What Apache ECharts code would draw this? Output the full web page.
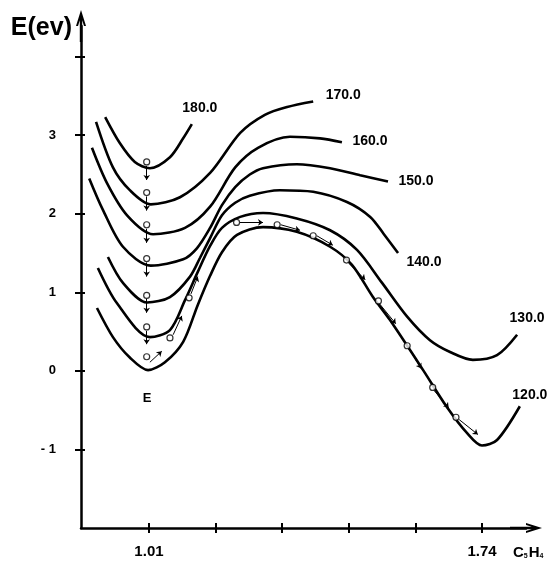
<!DOCTYPE html>
<html><head><meta charset="utf-8">
<script src="https://cdn.jsdelivr.net/npm/echarts@6/dist/echarts.min.js"></script>
<style>html,body{margin:0;padding:0;background:#fff}#c{width:549px;height:563px}</style>
</head><body><div id="c"></div>
<script>
// ---- data ----
const curveNames = ['180.0', '170.0', '160.0', '150.0', '140.0', '130.0', '120.0'];
const curve180 = [[0.914,3.23],[0.946,2.90],[0.979,2.66],[1.012,2.58],[1.056,2.72],[1.085,2.96],[1.104,3.14]];
const curve170 = [[0.894,3.17],[0.931,2.59],[0.968,2.30],[1.014,2.12],[1.078,2.21],[1.144,2.52],[1.210,3.03],[1.264,3.26],[1.313,3.36],[1.370,3.43]];
const curve160 = [[0.885,2.84],[0.918,2.39],[0.962,1.98],[1.019,1.74],[1.089,1.82],[1.144,2.09],[1.199,2.59],[1.249,2.84],[1.319,2.98],[1.385,2.96],[1.433,2.91]];
const curve150 = [[0.879,2.45],[0.909,2.05],[0.953,1.58],[1.014,1.34],[1.085,1.42],[1.115,1.56],[1.144,1.82],[1.170,2.11],[1.199,2.34],[1.231,2.50],[1.260,2.58],[1.334,2.63],[1.407,2.58],[1.473,2.49],[1.534,2.41]];
const curve140 = [[0.920,1.45],[0.953,1.12],[1.006,0.87],[1.056,0.94],[1.100,1.20],[1.122,1.44],[1.144,1.69],[1.170,1.98],[1.199,2.14],[1.231,2.23],[1.297,2.30],[1.370,2.28],[1.444,2.15],[1.495,1.96],[1.525,1.74],[1.556,1.50]];
const curve130 = [[0.898,1.31],[0.940,0.86],[1.012,0.43],[1.056,0.52],[1.089,0.90],[1.117,1.26],[1.144,1.59],[1.170,1.82],[1.210,1.96],[1.260,2.01],[1.334,1.94],[1.407,1.79],[1.466,1.54],[1.521,1.12],[1.576,0.69],[1.626,0.39],[1.670,0.24],[1.720,0.14],[1.773,0.20],[1.817,0.46]];
const curve120 = [[0.896,0.80],[0.931,0.43],[0.968,0.17],[1.008,0.01],[1.045,0.11],[1.085,0.37],[1.117,0.84],[1.144,1.21],[1.170,1.51],[1.203,1.73],[1.260,1.83],[1.334,1.77],[1.407,1.58],[1.455,1.35],[1.501,0.94],[1.538,0.65],[1.611,0.01],[1.663,-0.46],[1.707,-0.79],[1.740,-0.95],[1.773,-0.88],[1.823,-0.45]];
const curves = [curve180, curve170, curve160, curve150, curve140, curve130, curve120];

const stepCircles = [[1.005,2.66],[1.005,2.27],[1.005,1.86],[1.005,1.43],[1.005,0.96],[1.005,0.56],[1.005,0.18]];
const pathCircles = [[1.056,0.42],[1.098,0.93],[1.202,1.89],[1.291,1.86],[1.370,1.72],[1.443,1.41],[1.513,0.89],[1.576,0.32],[1.632,-0.21],[1.683,-0.59]];
const arrowFrom = [[1.005,2.61],[1.005,2.22],[1.005,1.81],[1.005,1.38],[1.005,0.92],[1.005,0.51],
  [1.012,0.11],[1.063,0.46],[1.102,0.98],[1.209,1.89],[1.299,1.86],[1.378,1.72],[1.448,1.37],[1.516,0.85],[1.580,0.28],[1.635,-0.25],[1.690,-0.62]];
const arrowTo = [[1.005,2.43],[1.005,2.04],[1.005,1.63],[1.005,1.20],[1.005,0.74],[1.005,0.34],
  [1.038,0.25],[1.082,0.70],[1.117,1.20],[1.260,1.89],[1.341,1.79],[1.413,1.60],[1.484,1.16],[1.551,0.60],[1.607,0.03],[1.667,-0.47],[1.731,-0.81]];

const xTickValues = [1.01, 1.156, 1.302, 1.448, 1.594, 1.74];
const xLabelValues = [1.01, 1.74];
const xLabels = ['1.01', '1.74'];
const yTickValues = [-1, 0, 1, 2, 3, 4];
const yLabelValues = [-1, 0, 1, 2, 3];
const yLabels = ['- 1', '0', '1', '2', '3'];
const minimumLabel = 'E';
const yAxisTitle = 'E(ev)';

// ---- styles ----
const FONT = '"Liberation Sans", Arial, sans-serif';
const labelOffsets = [[8,-16],[30,-6],[28,-1],[28,0],[26,9],[10,-17],[10,-11]];
const arrowPath = 'path://M5,0L10,16L8,16L6.2,10.2L6.2,32L3.8,32L3.8,10.2L2,16L0,16Z';
const X_MIN = 0.861, X_MAX = 1.8365, Y_MIN = -2, Y_MAX = 4.39;

function pick(values, labels) {
  return function (v) {
    let best = 0;
    for (let i = 1; i < values.length; i++) if (Math.abs(values[i]-v) < Math.abs(values[best]-v)) best = i;
    return labels[best];
  };
}

const chart = echarts.init(document.getElementById('c'), null, {renderer: 'canvas'});

const series = curves.map((c, i) => {
  const s = {
    type: 'line', name: curveNames[i], data: c, smooth: 0.3, symbol: 'none',
    lineStyle: {color: '#000', width: 2.6}, silent: true, z: 3,
    markPoint: {
      symbol: 'circle', symbolSize: 1, itemStyle: {color: 'rgba(0,0,0,0)'},
      data: [{coord: c[c.length - 1], label: {show: true, formatter: curveNames[i], offset: labelOffsets[i],
        fontFamily: FONT, fontWeight: 'bold', fontSize: 14, color: '#000'}}]
    }
  };
  if (i === curves.length - 1) {
    s.markPoint.data.push({coord: c[3], label: {show: true, formatter: minimumLabel, offset: [-1, 28],
      fontFamily: FONT, fontWeight: 'bold', fontSize: 13, color: '#000'}});
  }
  return s;
});

series.push({
  type: 'lines', coordinateSystem: 'cartesian2d', z: 4,
  symbol: ['none', 'arrow'], symbolSize: 5,
  lineStyle: {color: '#000', width: 1, opacity: 1},
  data: arrowFrom.map((p, i) => ({coords: [p, arrowTo[i]]}))
});
series.push({
  type: 'scatter', z: 5, symbol: 'circle', symbolSize: 6,
  itemStyle: {color: '#fff', borderColor: '#000', borderWidth: 1.2},
  data: stepCircles.concat(pathCircles)
});

const axisLineStyle = {color: '#000', width: 2.5};
chart.setOption({
  animation: false,
  backgroundColor: '#fff',
  grid: {left: 81, right: 23, top: 26, bottom: 35, containLabel: false},
  xAxis: [
    {type: 'value', min: X_MIN, max: X_MAX, position: 'bottom',
      axisLine: {onZero: false, lineStyle: axisLineStyle, symbol: ['none', arrowPath], symbolSize: [10, 32]},
      axisTick: {show: true, customValues: xTickValues, length: 5, lineStyle: {color: '#000', width: 2}},
      axisLabel: {customValues: xLabelValues, formatter: pick(xLabelValues, xLabels), margin: 16,
        fontFamily: FONT, fontWeight: 'bold', fontSize: 15, color: '#000'},
      splitLine: {show: false}},
    {type: 'value', min: X_MIN, max: X_MAX, position: 'bottom',
      axisLine: {show: false, onZero: false},
      axisTick: {show: true, inside: true, customValues: xTickValues, length: 5, lineStyle: {color: '#000', width: 2}},
      axisLabel: {show: false}, splitLine: {show: false}}
  ],
  yAxis: [
    {type: 'value', min: Y_MIN, max: Y_MAX, interval: 1, position: 'left',
      name: yAxisTitle, nameLocation: 'end', nameGap: -2,
      nameTextStyle: {fontFamily: FONT, fontWeight: 'bold', fontSize: 25, color: '#000', align: 'right', verticalAlign: 'middle', padding: [0, 9, 0, 0]},
      axisLine: {onZero: false, lineStyle: axisLineStyle, symbol: ['none', arrowPath], symbolSize: [10, 32]},
      axisTick: {show: true, customValues: yTickValues, length: 6, lineStyle: {color: '#000', width: 2}},
      axisLabel: {customValues: yLabelValues, formatter: pick(yLabelValues, yLabels), margin: 25,
        fontFamily: FONT, fontWeight: 'bold', fontSize: 13, color: '#000'},
      splitLine: {show: false}},
    {type: 'value', min: Y_MIN, max: Y_MAX, interval: 1, position: 'left',
      axisLine: {show: false, onZero: false},
      axisTick: {show: true, inside: true, customValues: yTickValues, length: 4, lineStyle: {color: '#000', width: 2}},
      axisLabel: {show: false}, splitLine: {show: false}}
  ],
  graphic: [{
    type: 'text', left: 513, top: 545,
    style: {
      text: '{b|C}{s|5}{b|H}{s|4}',
      rich: {
        b: {fontFamily: FONT, fontWeight: 'bold', fontSize: 15, fill: '#000', verticalAlign: 'bottom'},
        s: {fontFamily: FONT, fontWeight: 'bold', fontSize: 7, fill: '#000', verticalAlign: 'bottom', padding: [0, 1, 0, 0]}
      }
    }
  }],
  series: series
});
</script>
</body></html>
